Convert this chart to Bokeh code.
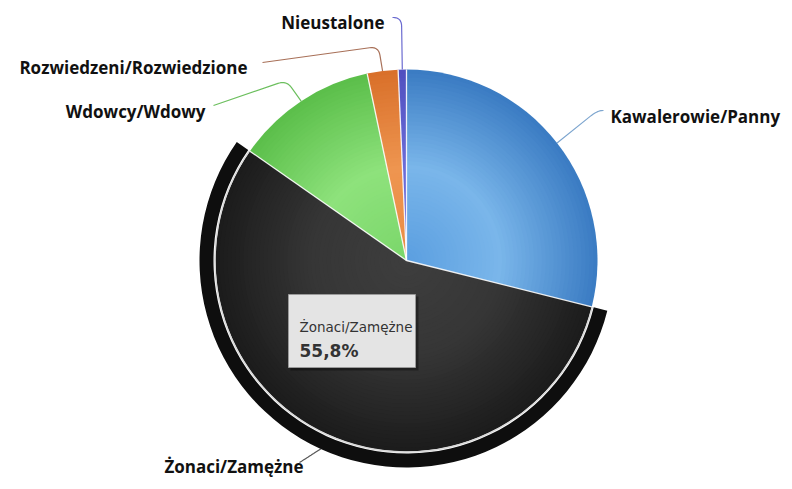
import numpy as np
from bokeh.plotting import figure
from bokeh.models import Range1d
from bokeh.core.properties import value
from bokeh.embed import file_html
from bokeh.resources import INLINE

# ---------------- data ----------------
categories = ["Kawalerowie/Panny", "Żonaci/Zamężne", "Wdowcy/Wdowy",
              "Rozwiedzeni/Rozwiedzione", "Nieustalone"]
shares = [28.9, 55.8, 12.0, 2.6, 0.7]
highlighted = "Żonaci/Zamężne"

# ---------------- style ----------------
# (centre colour, light band colour, edge colour) for the radial shading
shade = {
    "Kawalerowie/Panny": ("#5a9ee0", "#7ab6ea", "#3b7cc3"),
    "Żonaci/Zamężne": ("#3e3e3e", "#363636", "#1c1c1c"),
    "Wdowcy/Wdowy": ("#7ad66a", "#8ee27c", "#5cbf4b"),
    "Rozwiedzeni/Rozwiedzione": ("#ea8c44", "#ee9550", "#d9702a"),
    "Nieustalone": ("#6464d2", "#6c6cd8", "#5050c0"),
}
connector_color = {
    "Kawalerowie/Panny": "#7ea6cf",
    "Żonaci/Zamężne": "#555555",
    "Wdowcy/Wdowy": "#6cbf5e",
    "Rozwiedzeni/Rozwiedzione": "#a87058",
    "Nieustalone": "#6a6ad0",
}
# label layout in page pixel coordinates: elbow, end of connector, text anchor, align
label_layout = {
    "Kawalerowie/Panny": ((597, 110), (603, 110), (610, 116), "left"),
    "Nieustalone": ((401, 17), (392, 17), (384, 22), "right"),
    "Rozwiedzeni/Rozwiedzione": ((378, 46), (262, 62), (247, 67), "right"),
    "Wdowcy/Wdowy": ((286, 80), (213, 105), (205, 111), "right"),
    "Żonaci/Zamężne": ((307, 457), (299, 462), (303, 466), "right"),
}

W, H = 784, 481


def X(px):
    return px


def Y(py):
    return H - py


CX, CY = X(406), Y(260)
R = 191.0


def hex2rgb(h):
    h = h.lstrip("#")
    return np.array([int(h[i:i + 2], 16) for i in (0, 2, 4)], dtype=float)


def rgb2hex(c):
    c = np.clip(np.round(c), 0, 255).astype(int)
    return "#%02x%02x%02x" % tuple(c)


def grad(stops, t):
    c0, c1, c2 = [hex2rgb(s) for s in stops]
    if t < 0.5:
        return rgb2hex(c0 + (c1 - c0) * (t / 0.5))
    return rgb2hex(c1 + (c2 - c1) * ((t - 0.5) / 0.5))


p = figure(width=W, height=H, output_backend="svg", toolbar_location=None,
           x_range=Range1d(0, W), y_range=Range1d(0, H),
           x_axis_type=None, y_axis_type=None, min_border=0,
           background_fill_color="white", border_fill_color="white")
p.grid.visible = False
p.outline_line_color = None

total = float(sum(shares))
fracs = np.array(shares) / total
ends = np.cumsum(fracs)
starts = ends - fracs

# halo around the highlighted slice
for cat, a, b in zip(categories, starts, ends):
    if cat == highlighted:
        p.annular_wedge(x=CX, y=CY, inner_radius=R + 2, outer_radius=R + 16,
                        start_angle=np.pi / 2 - 2 * np.pi * b,
                        end_angle=np.pi / 2 - 2 * np.pi * a,
                        fill_color="#0e0e0e", line_color=None)

# shaded slices: concentric wedges from outside to inside
N = 48
xs, ys, rs, sa, ea, cols = [], [], [], [], [], []
for k in range(N, 0, -1):
    t = k / N
    for cat, a, b in zip(categories, starts, ends):
        xs.append(CX)
        ys.append(CY)
        rs.append(R * t)
        sa.append(np.pi / 2 - 2 * np.pi * b)
        ea.append(np.pi / 2 - 2 * np.pi * a)
        cols.append(grad(shade[cat], t))
p.wedge(x=xs, y=ys, radius=rs, start_angle=sa, end_angle=ea,
        fill_color=cols, line_color=None)

# white separators between slices
for e in starts:
    th = 2 * np.pi * e
    p.segment(x0=CX, y0=CY, x1=CX + R * np.sin(th), y1=CY + R * np.cos(th),
              line_color="white", line_width=1.3, line_alpha=0.9)

# light rim on the highlighted slice
for cat, a, b in zip(categories, starts, ends):
    if cat == highlighted:
        p.arc(x=CX, y=CY, radius=R + 0.5,
              start_angle=np.pi / 2 - 2 * np.pi * b,
              end_angle=np.pi / 2 - 2 * np.pi * a,
              line_color="#d8d8d8", line_width=1.5)

# connectors and labels
for cat, a, b in zip(categories, starts, ends):
    mid = 2 * np.pi * (a + b) / 2
    r0 = R + 16 if cat == highlighted else R
    S = np.array([CX + r0 * np.sin(mid), CY + r0 * np.cos(mid)])
    (ex, ey), (lx, ly), (tx, ty), align = label_layout[cat]
    E = np.array([X(ex), Y(ey)])
    L = np.array([X(lx), Y(ly)])
    d1 = np.linalg.norm(S - E)
    d2 = np.linalg.norm(L - E)
    P1 = E + (S - E) * min(0.9, 9 / d1)
    P2 = E + (L - E) * min(0.9, 9 / d2)
    tt = np.linspace(0, 1, 12)
    qx = (1 - tt) ** 2 * P1[0] + 2 * (1 - tt) * tt * E[0] + tt ** 2 * P2[0]
    qy = (1 - tt) ** 2 * P1[1] + 2 * (1 - tt) * tt * E[1] + tt ** 2 * P2[1]
    lxs = [S[0]] + list(qx) + [L[0]]
    lys = [S[1]] + list(qy) + [L[1]]
    p.line(lxs, lys, line_color=connector_color[cat], line_width=1.2)
    p.text(x=[X(tx)], y=[Y(ty)], text=[cat], text_font=value("Open Sans"),
           text_font_style="bold", text_font_size="17px", text_color="#111111",
           text_align=align, text_baseline="middle")

# tooltip for the highlighted slice
hi = categories.index(highlighted)
pct = ("%.1f" % shares[hi]).replace(".", ",") + "%"
p.quad(left=X(290), right=X(418), top=Y(296), bottom=Y(370),
       fill_color="black", fill_alpha=0.35, line_color=None)
p.quad(left=X(288), right=X(415), top=Y(294), bottom=Y(367),
       fill_color="#e4e4e4", line_color="#9a9a9a", line_width=1)
p.text(x=[X(299)], y=[Y(326)], text=[highlighted], text_font=value("DejaVu Sans"),
       text_font_size="13.5px", text_color="#333333", text_baseline="alphabetic")
p.text(x=[X(299)], y=[Y(350)], text=[pct], text_font=value("DejaVu Sans"),
       text_font_style="bold", text_font_size="17px", text_color="#333333",
       text_baseline="alphabetic")

open("out.html", "w").write(file_html(p, INLINE))
